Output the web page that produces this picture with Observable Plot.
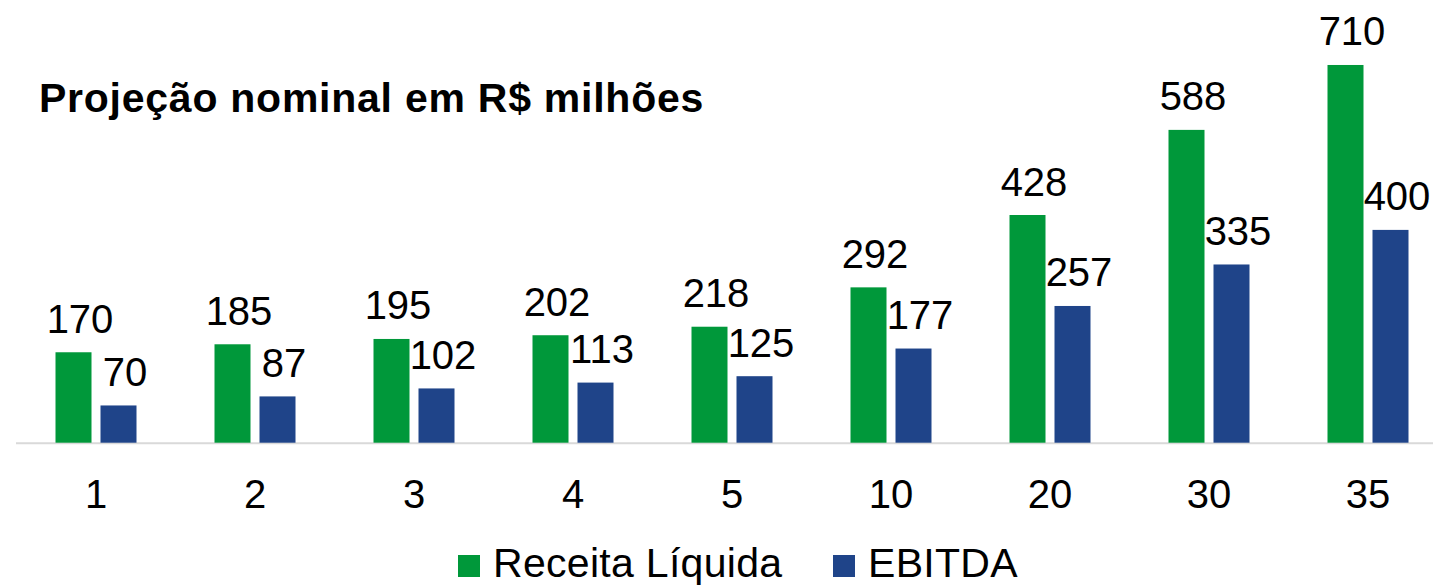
<!DOCTYPE html>
<html>
<head>
<meta charset="utf-8">
<script src="https://cdn.jsdelivr.net/npm/d3@7"></script>
<script src="https://cdn.jsdelivr.net/npm/@observablehq/plot@0.6"></script>
<style>
  html, body { margin: 0; padding: 0; background: #fff; overflow: hidden; }
  #wrap { width: 1433px; font-family: "Liberation Sans", Arial, sans-serif; }
  #wrap svg [font-weight="bold"] { letter-spacing: 0.75px; }
  #legend { position: relative; width: 1433px; height: 56px; }
  #legend .sw { position: absolute; top: 25px; width: 22px; height: 22px; }
  #legend .lb { position: absolute; top: 13px; font-size: 41px; line-height: 41px; color: #000; white-space: nowrap; letter-spacing: 0.3px; }
</style>
</head>
<body>
<div id="wrap"></div>
<script>
const title = "Projeção nominal em R$ milhões";
const categories = ["1", "2", "3", "4", "5", "10", "20", "30", "35"];
const series = ["Receita Líquida", "EBITDA"];
const receita = [170, 185, 195, 202, 218, 292, 428, 588, 710];
const ebitda = [70, 87, 102, 113, 125, 177, 257, 335, 400];

const colors = ["#00983A", "#1F4489"];

const data = [];
categories.forEach((c, i) => {
  data.push({cat: c, series: series[0], value: receita[i]});
  data.push({cat: c, series: series[1], value: ebitda[i]});
});

const chart = Plot.plot({
  width: 1433,
  height: 530,
  marginTop: 17.1,
  marginBottom: 87.3,
  marginLeft: 15.5,
  marginRight: -13.5,
  style: {fontFamily: "'Liberation Sans', Arial, sans-serif", fontSize: "40px", color: "#000", background: "#fff", overflow: "visible"},
  fx: {domain: categories, padding: 0, label: null, tickSize: 0, tickPadding: 36, axis: "bottom"},
  x: {domain: series, paddingInner: 0.209, paddingOuter: 0.852, axis: null},
  y: {domain: [0, 800], axis: null},
  color: {domain: series, range: colors},
  marks: [
    Plot.ruleY([0], {stroke: "#d9d9d9", strokeWidth: 2}),
    Plot.barY(data, {fx: "cat", x: "series", y: "value", fill: "series", inset: 0}),
    Plot.text(data, {fx: "cat", x: "series", y: "value", text: d => String(d.value), lineAnchor: "bottom", dy: -20, dx: 6, fill: "#000", fontSize: 40}),
    Plot.text([title], {facet: "super", frameAnchor: "top-left", text: d => d, textAnchor: "start", lineAnchor: "bottom", dx: 22.5, dy: 94, fontSize: 41, fontWeight: "bold", fill: "#000"})
  ]
});

const wrap = document.getElementById("wrap");
wrap.appendChild(chart);

const legend = document.createElement("div");
legend.id = "legend";
const items = [
  {label: series[0], color: colors[0], sx: 458, tx: 493},
  {label: series[1], color: colors[1], sx: 833, tx: 868}
];
items.forEach(it => {
  const sw = document.createElement("div");
  sw.className = "sw";
  sw.style.left = it.sx + "px";
  sw.style.background = it.color;
  legend.appendChild(sw);
  const lb = document.createElement("div");
  lb.className = "lb";
  lb.style.left = it.tx + "px";
  lb.textContent = it.label;
  legend.appendChild(lb);
});
wrap.appendChild(legend);
</script>
</body>
</html>
